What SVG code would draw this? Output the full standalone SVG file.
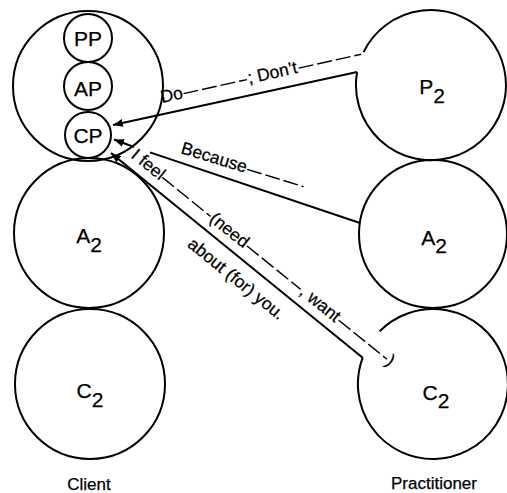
<svg xmlns="http://www.w3.org/2000/svg" width="507" height="493" viewBox="0 0 507 493">
<style>
.c{fill:none;stroke:#000;stroke-width:2}
.ln{fill:none;stroke:#000;stroke-width:2}
.dash{fill:none;stroke:#000;stroke-width:1.4;stroke-dasharray:15 4}
text{font-family:"Liberation Sans",Arial,sans-serif;fill:#000;stroke:#000;stroke-width:0.25}
.t{font-size:17.5px}
.n{font-size:21px;text-anchor:middle}
.cap{font-size:17px;text-anchor:middle}
</style>
<defs>
<marker id="arr" viewBox="0 0 10 8" refX="10" refY="4" markerWidth="10" markerHeight="8" markerUnits="userSpaceOnUse" orient="auto"><path d="M0,0 L10,4 L0,8 z" fill="#000"/></marker>
</defs>
<rect width="507" height="493" fill="#fff"/>

<g id="client-p">
<circle class="c" cx="88" cy="86" r="75"/>
</g>
<g id="client-pp">
<circle class="c" cx="88" cy="38" r="24"/>
<text class="n" x="88" y="46">PP</text>
</g>
<g id="client-ap">
<circle class="c" cx="88" cy="86" r="24"/>
<text class="n" x="88" y="96">AP</text>
</g>
<g id="client-cp">
<circle class="c" cx="88" cy="135" r="23"/>
<text class="n" x="88" y="143">CP</text>
</g>
<g id="client-a2">
<circle class="c" cx="89" cy="233" r="75"/>
<text class="n" x="89" y="243">A<tspan dy="9">2</tspan></text>
</g>
<g id="client-c2">
<circle class="c" cx="90" cy="384" r="75"/>
<text class="n" x="90" y="398">C<tspan dy="9">2</tspan></text>
</g>
<g id="practitioner-p2">
<path class="c" d="M357.1,72 A75,75 0 1 0 363.6,52.1"/>
<text class="n" x="432" y="94">P<tspan dy="9">2</tspan></text>
</g>
<g id="practitioner-a2">
<circle class="c" cx="433" cy="234" r="74"/>
<text class="n" x="434" y="245">A<tspan dy="8">2</tspan></text>
</g>
<g id="practitioner-c2">
<path class="c" d="M362.7,357.7 A75,75 0 1 0 379.5,331.4"/>
<text class="n" x="436" y="400">C<tspan dy="8">2</tspan></text>
</g>
<text class="cap" x="89" y="490">Client</text>
<text class="cap" x="434" y="489">Practitioner</text>

<g id="connectors">
<line class="ln" x1="357.1" y1="72" x2="113" y2="125" marker-end="url(#arr)"/>
<g transform="translate(162,103) rotate(-12.5)">
<text class="t" x="0" y="0">Do</text>
<line class="dash" x1="23" y1="-4.5" x2="88" y2="-4.5"/>
<text class="t" x="89" y="0">; Don’t</text>
<line class="dash" x1="141" y1="-4.5" x2="205" y2="-4.5"/>
</g>

<line class="ln" x1="134" y1="147" x2="114" y2="139.5" marker-end="url(#arr)"/>
<line class="ln" x1="150" y1="152.4" x2="360" y2="223"/>
<g transform="translate(180,153) rotate(17)">
<text class="t" x="0" y="0">Because</text>
<line class="dash" x1="69" y1="-4" x2="128" y2="-4"/>
</g>

<line class="ln" x1="362.7" y1="357.7" x2="111" y2="153" marker-end="url(#arr)"/>
<g transform="translate(110,153) rotate(39)">
<text class="t" x="18" y="-9.5">I feel</text>
<line class="dash" x1="56" y1="-14" x2="118" y2="-14"/>
<text class="t" x="119" y="-9.5">(need</text>
<line class="dash" x1="165" y1="-14" x2="234" y2="-14"/>
<text class="t" x="235" y="-9.5">, want</text>
<line class="dash" x1="283" y1="-14" x2="345" y2="-14"/>
<text class="t" x="346" y="-9.5">)</text>
<text class="t" x="118" y="24">about (for) you.</text>
</g>
</g>
</svg>
